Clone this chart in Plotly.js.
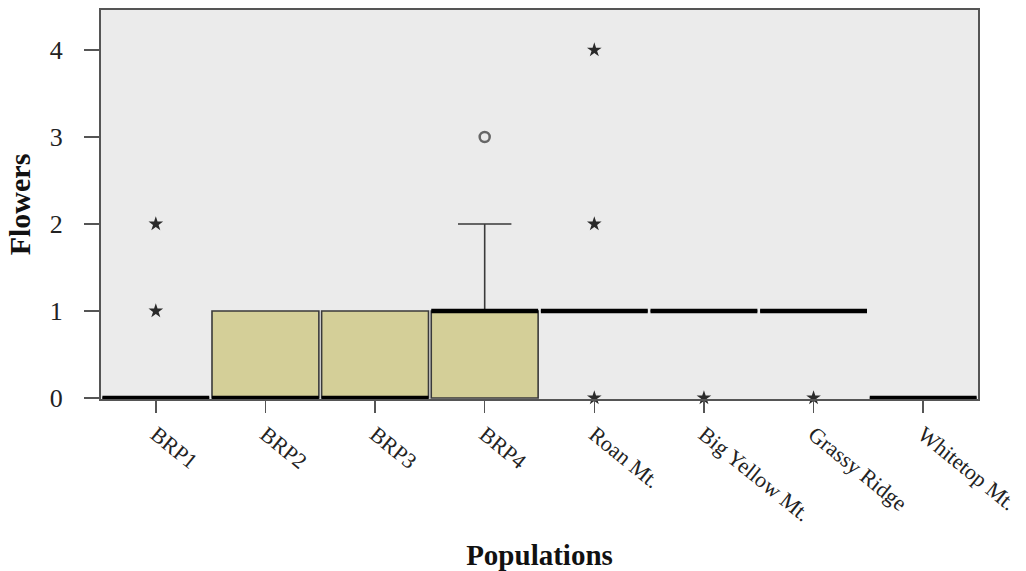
<!DOCTYPE html>
<html><head><meta charset="utf-8">
<script src="https://cdn.plot.ly/plotly-3.0.1.min.js"></script>
<style>html,body{margin:0;padding:0;background:#fff}</style>
</head><body><div id="chart" style="width:1026px;height:571px"></div>
<script>
var populations = ["BRP1","BRP2","BRP3","BRP4","Roan Mt.","Big Yellow Mt.","Grassy Ridge","Whitetop Mt."];
var q1Vals     = [0,0,0,0,1,1,1,0];
var medianVals = [0,0,0,1,1,1,1,0];
var q3Vals     = [0,1,1,1,1,1,1,0];
var lowerVals  = [0,0,0,0,1,1,1,0];
var upperVals  = [0,1,1,2,1,1,1,0];
var extremeX = ["BRP1","BRP1","Roan Mt.","Roan Mt.","Roan Mt.","Grassy Ridge","Big Yellow Mt."];
var extremeY = [1,2,2,4,0,0,0];
var outlierX = ["BRP4"];
var outlierY = [3];

var serif = "Liberation Serif, Times New Roman, serif";
var traces = [
  {type:"box", x:populations, q1:q1Vals, median:medianVals, q3:q3Vals,
   lowerfence:lowerVals, upperfence:upperVals, boxpoints:false, width:0.975,
   fillcolor:"#d4cf98", line:{color:"#3a3a3a", width:1.6}, whiskerwidth:0.5,
   showlegend:false, hoverinfo:"skip"},
  {type:"box", x:populations, q1:medianVals, median:medianVals, q3:medianVals,
   lowerfence:medianVals, upperfence:medianVals, boxpoints:false, width:0.975,
   fillcolor:"rgba(0,0,0,0)", line:{color:"#000", width:4.5}, whiskerwidth:0,
   showlegend:false, hoverinfo:"skip"},
  {type:"scatter", mode:"markers", x:extremeX, y:extremeY,
   marker:{symbol:"star", size:11, color:"#2a2a2a"}, showlegend:false, cliponaxis:false},
  {type:"scatter", mode:"markers", x:outlierX, y:outlierY,
   marker:{symbol:"circle-open", size:10, color:"#666", line:{width:2.5, color:"#666"}}, showlegend:false}
];
var layout = {
  width:1026, height:571,
  margin:{l:101, r:48, t:10, b:172},
  paper_bgcolor:"#fff", plot_bgcolor:"#ebebeb",
  boxmode:"overlay",
  font:{family:serif, color:"#111"},
  xaxis:{type:"category", categoryorder:"array", categoryarray:populations,
    range:[-0.5, 7.5], autorange:false,
    showline:true, mirror:true, linecolor:"#555", linewidth:2,
    ticks:"outside", ticklen:12, tickwidth:1.5, tickcolor:"#555",
    tickangle:39, tickfont:{family:serif, size:22, color:"#222"},
    showgrid:false, zeroline:false,
    title:{text:"<b>Populations</b>", font:{family:serif, size:29, color:"#111"}, standoff:24}},
  yaxis:{range:[-0.012, 4.46], tickvals:[0,1,2,3,4],
    showline:true, mirror:true, linecolor:"#555", linewidth:2,
    ticks:"outside", ticklen:15, tickwidth:1.5, tickcolor:"#555", ticklabelstandoff:16,
    tickfont:{family:serif, size:26, color:"#222"},
    showgrid:false, zeroline:false,
    title:{text:"<b>Flowers</b>", font:{family:serif, size:30, color:"#111"}, standoff:10}}
};
Plotly.newPlot("chart", traces, layout, {displayModeBar:false, staticPlot:true});
</script></body></html>
